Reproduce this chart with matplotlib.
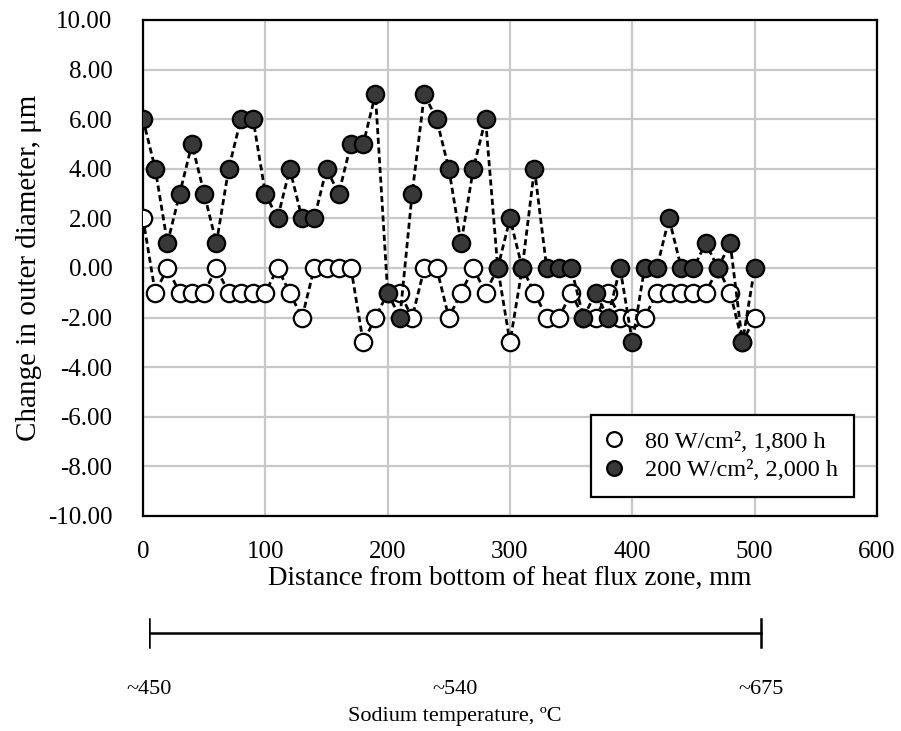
import matplotlib
matplotlib.use("Agg")
import matplotlib.pyplot as plt
from matplotlib.ticker import FormatStrFormatter, MultipleLocator

plt.rcParams["font.family"] = ["Liberation Serif", "DejaVu Serif"]
plt.rcParams["axes.unicode_minus"] = False

# distance from bottom of heat flux zone, mm
distance = list(range(0, 510, 10))

# change in outer diameter, um
low_flux = [2, -1, 0, -1, -1, -1, 0, -1, -1, -1,
            -1, 0, -1, -2, 0, 0, 0, 0, -3, -2,
            -1, -1, -2, 0, 0, -2, -1, 0, -1, 0,
            -3, 0, -1, -2, -2, -1, -2, -2, -1, -2,
            -2, -2, -1, -1, -1, -1, -1, 0, -1, -3,
            -2]
high_flux = [6, 4, 1, 3, 5, 3, 1, 4, 6, 6,
             3, 2, 4, 2, 2, 4, 3, 5, 5, 7,
             -1, -2, 3, 7, 6, 4, 1, 4, 6, 0,
             2, 0, 4, 0, 0, 0, -2, -1, -2, 0,
             -3, 0, 0, 2, 0, 0, 1, 0, 1, -3,
             0]

low_label = "80 W/cm², 1,800 h"
high_label = "200 W/cm², 2,000 h"

# sodium temperature scale along the heat flux zone
temp_pos = [0, 250, 500]
temp_labels = ["~450", "~540", "~675"]

W, H = 901, 731
fig = plt.figure(figsize=(W / 100, H / 100), dpi=100)
ax = fig.add_axes([143 / W, 215 / H, 734 / W, 496 / H])

dash = (0, (2.2, 1.3))
ax.plot(distance, low_flux, linestyle=dash, color="black", linewidth=2.0,
        marker="o", markersize=12.5, markerfacecolor="white",
        markeredgecolor="black", markeredgewidth=1.6, label=low_label, zorder=3)
ax.plot(distance, high_flux, linestyle=dash, color="black", linewidth=2.0,
        marker="o", markersize=12.5, markerfacecolor="#383838",
        markeredgecolor="black", markeredgewidth=1.6, label=high_label, zorder=4)

ax.set_xlim(0, 600)
ax.set_ylim(-10, 10)
ax.xaxis.set_major_locator(MultipleLocator(100))
ax.yaxis.set_major_locator(MultipleLocator(2))
ax.yaxis.set_major_formatter(FormatStrFormatter("%.2f"))
ax.grid(True, color="#c8c8c8", linewidth=1.6)
ax.set_axisbelow(True)
for sp in ax.spines.values():
    sp.set_linewidth(1.6)
    sp.set_color("black")
ax.tick_params(length=0, labelsize=18)
ax.tick_params(axis="x", pad=18)
ax.tick_params(axis="y", pad=22)
for lbl in ax.get_xticklabels() + ax.get_yticklabels():
    lbl.set_clip_on(False)

ax.set_xlabel("Distance from bottom of heat flux zone, mm", fontsize=19.5, labelpad=2)
ax.set_ylabel("Change in outer diameter, μm", fontsize=21, labelpad=4)

leg = ax.legend(loc="lower right", bbox_to_anchor=(0.969, 0.038), fontsize=17.5,
                frameon=True, fancybox=False, handlelength=0.6,
                handletextpad=1.0, borderpad=0.65, borderaxespad=0,
                labelspacing=0.28, markerscale=0.85)
for h in leg.legend_handles:
    h.set_linestyle("none")
leg.get_frame().set_edgecolor("black")
leg.get_frame().set_linewidth(1.6)
leg.get_frame().set_alpha(1)

# temperature bar below the main axes
axt = fig.add_axes([149 / W, 0, 734 / W, 131 / H])
axt.set_xlim(0, 600)
axt.set_ylim(131, 0)
axt.axis("off")
bar_y = 33
axt.plot([temp_pos[0], temp_pos[-1]], [bar_y, bar_y], color="black", linewidth=1.8)
for p in (temp_pos[0], temp_pos[-1]):
    axt.plot([p, p], [bar_y - 14, bar_y + 14], color="black", linewidth=1.8)
for p, t in zip(temp_pos, temp_labels):
    axt.text(p, 89, t, ha="center", va="center", fontsize=16)
axt.text(temp_pos[1], 117, "Sodium temperature, ºC", ha="center", va="center", fontsize=16)

fig.savefig("out.png", dpi=100)
